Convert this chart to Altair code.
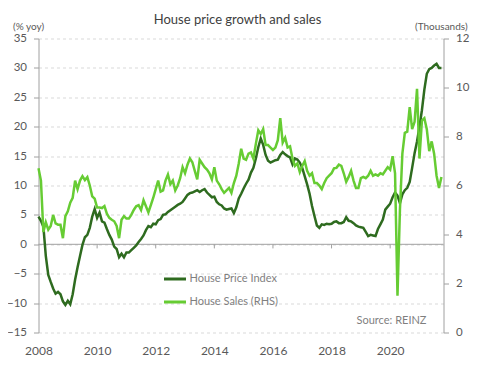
import altair as alt
import pandas as pd

# Monthly data, Jan 2008 .. Oct 2021
hpi = [
    4.7, 4.0, 3.0, -2.0, -5.2, -6.4, -7.5, -8.4, -8.1, -8.5, -9.7, -10.3,
    -9.6, -10.2, -8.5, -6.0, -3.9, -2.0, -0.1, 1.2, 1.6, 2.8, 4.7, 6.0,
    4.5, 5.4, 3.9, 3.7, 2.6, 1.6, 0.8, -0.4, -0.8, -2.2, -1.6, -2.2,
    -1.4, -1.4, -1.0, -0.6, -0.2, 0.4, 0.9, 1.5, 2.4, 3.1, 2.9, 3.5,
    3.4, 4.1, 4.3, 5.0, 5.1, 5.5, 5.8, 6.1, 6.4, 6.7, 6.9, 7.2,
    7.8, 8.4, 8.7, 8.8, 9.0, 9.2, 8.9, 9.2, 9.4, 8.8, 8.4, 8.0,
    8.1, 7.2, 6.8, 6.6, 6.1, 5.9, 6.0, 6.1, 5.3, 6.3, 7.8, 8.6,
    9.5, 10.3, 11.0, 12.2, 13.0, 14.6, 16.5, 18.0, 16.9, 15.2, 14.2, 13.9,
    14.1, 14.3, 14.4, 15.2, 15.7, 15.3, 15.0, 14.8, 13.6, 14.6, 14.4, 13.9,
    13.0, 11.6, 10.2, 8.6, 6.5, 4.8, 3.2, 2.8, 3.4, 3.3, 3.5, 3.4,
    3.5, 3.8, 3.9, 3.6, 3.6, 3.8, 4.6, 4.0, 3.9, 3.6, 3.2, 3.0,
    2.9, 2.8, 2.1, 1.4, 1.6, 1.5, 1.4, 2.6, 3.4, 4.2, 5.9, 6.4,
    6.9, 8.0, 8.8, 8.3, 7.0, 8.5, 9.2, 9.6, 10.6, 13.0, 15.5, 17.5,
    20.0, 22.8, 26.3, 29.0, 29.8, 30.0, 30.4, 30.7, 30.0, 30.0,
]
sales = [
    6.7, 6.2, 4.1, 4.5, 4.2, 4.35, 4.8, 4.45, 4.4, 4.4, 3.85, 4.75,
    4.95, 5.3, 5.5, 6.2, 5.85, 6.2, 6.38, 6.22, 6.34, 6.0, 5.56, 5.46,
    5.1, 5.1, 5.08, 5.16, 4.85, 4.68, 4.6, 4.54, 4.35, 3.85, 4.6, 4.75,
    4.65, 4.65, 4.8, 5.0, 5.15, 5.2, 5.0, 5.4, 5.15, 4.9, 5.2, 5.5,
    5.85, 6.2, 5.75, 5.8, 6.2, 6.45, 6.05, 6.2, 5.8, 6.0, 6.3, 6.75,
    6.5, 6.85, 7.1, 6.95, 6.6, 6.25, 7.05, 6.9, 6.75, 6.65, 6.5, 6.25,
    6.75, 6.2, 6.05, 5.85, 5.7, 5.8, 5.9, 5.7, 6.1, 6.4, 6.9, 7.5,
    7.1, 7.05, 7.3, 7.35, 7.1, 7.7, 8.25, 8.1, 8.3, 7.65, 7.65, 7.55,
    7.45, 7.55, 7.85, 8.75, 7.75, 7.95, 7.55, 7.6, 7.1, 6.8, 6.9, 6.55,
    6.8, 7.0, 6.6, 6.4, 6.5, 6.1, 6.1, 6.0, 5.85, 6.1, 6.3, 6.4,
    6.5, 6.7, 6.72, 6.85, 6.8, 6.5, 6.15, 6.35, 6.6, 6.2, 5.9, 5.9,
    6.3, 6.35, 6.3, 6.4, 6.6, 6.4, 6.45, 6.4, 6.5, 6.45, 6.6, 6.75,
    6.65, 7.2, 6.5, 1.5, 5.0, 7.3, 8.15, 8.2, 9.2, 8.3, 8.6, 9.95,
    7.1, 8.65, 8.75, 8.3, 7.4, 7.8, 7.3, 6.4, 5.9, 6.35,
]
series_names = ["House Price Index", "House Sales (RHS)"]
series_colors = ["#2e6b1f", "#66cc33"]
year_ticks = [2008, 2010, 2012, 2014, 2016, 2018, 2020]
minor_ticks = [2010, 2012, 2014, 2016, 2018, 2020]
left_ticks = [-15, -10, -5, 0, 5, 10, 15, 20, 25, 30, 35]
right_ticks = [0, 2, 4, 6, 8, 10, 12]
x_end = 2021.82
title_text = "House price growth and sales"
source_text = "Source: REINZ"
left_unit = "(% yoy)"
right_unit = "(Thousands)"

FONT = "Lato"
t = [2008 + m / 12 for m in range(len(hpi))]
rows = []
for ti, h, s in zip(t, hpi, sales):
    rows.append({"t": ti, "series": series_names[0], "value": h})
    rows.append({"t": ti, "series": series_names[1], "value": s})
df = pd.DataFrame(rows)
ticks_df = pd.DataFrame({"yr": minor_ticks})
src_df = pd.DataFrame({"s": [source_text]})
title_df = pd.DataFrame({"s": [title_text]})
lu_df = pd.DataFrame({"s": [left_unit]})
ru_df = pd.DataFrame({"s": [right_unit]})

xscale = alt.Scale(domain=[2008, x_end], nice=False, zero=False)
xaxis = alt.Axis(values=year_ticks, format="d", domain=False, ticks=False, grid=False,
                 labelPadding=13, labelFontSize=12, labelColor="#595959", labelFont=FONT,
                 labelFlush=False, labelOverlap=False, title=None)

color = alt.Color("series:N", scale=alt.Scale(domain=series_names, range=series_colors),
                  legend=alt.Legend(orient="none", legendX=124, legendY=228, title=None,
                                    symbolType="stroke", symbolSize=484, symbolStrokeWidth=3,
                                    labelFontSize=11, labelColor="#7f7f7f", labelFont=FONT,
                                    rowPadding=4, labelOffset=2, padding=0))

lscale = alt.Scale(domain=[-15, 35], nice=False, zero=False)
laxis = alt.Axis(values=left_ticks, grid=True, gridDash=[3, 3], gridColor="#d9d9d9",
                 domainColor="#a0a0a0", tickColor="#a0a0a0", tickSize=5,
                 labelPadding=7, labelFontSize=11.5, labelColor="#595959", labelFont=FONT,
                 labelOverlap=False, labelBound=False, title=None)
left_y = alt.Y("value:Q", scale=lscale, axis=laxis)
right_y = alt.Y("value:Q", scale=alt.Scale(domain=[0, 12], nice=False, zero=False),
                axis=alt.Axis(orient="right", values=right_ticks, grid=False,
                              domainColor="#a0a0a0", tickColor="#a0a0a0", tickSize=5,
                              labelPadding=7, labelFontSize=11.5, labelColor="#595959", labelFont=FONT,
                              labelOverlap=False, title=None))

hpi_line = alt.Chart(df).transform_filter(alt.datum.series == series_names[0]).mark_line(
    strokeWidth=2.5).encode(x=alt.X("t:Q", scale=xscale, axis=xaxis), y=left_y, color=color)
zero_line = alt.Chart(src_df).mark_rule(color="#a0a0a0", strokeWidth=1).encode(
    y=alt.YDatum(0, scale=lscale, axis=laxis))
xt = alt.Chart(ticks_df).mark_rule(color="#a0a0a0", strokeWidth=1).encode(
    x=alt.X("yr:Q", scale=xscale, axis=xaxis),
    y=alt.YDatum(0, scale=lscale, axis=laxis), y2=alt.datum(-0.7))
source = alt.Chart(src_df).mark_text(align="right", baseline="middle", fontSize=11,
                                     color="#7f7f7f", font=FONT).encode(
    x=alt.value(388), y=alt.value(282), text="s:N")
title = alt.Chart(title_df).mark_text(align="center", baseline="middle", fontSize=13,
                                      color="#404040", font=FONT).encode(
    x=alt.value(199), y=alt.value(-18.5), text="s:N")
lunit = alt.Chart(lu_df).mark_text(align="left", baseline="middle", fontSize=10,
                                   color="#595959", font=FONT).encode(
    x=alt.value(-25.5), y=alt.value(-11.5), text="s:N")
runit = alt.Chart(ru_df).mark_text(align="left", baseline="middle", fontSize=10,
                                   color="#595959", font=FONT).encode(
    x=alt.value(376.5), y=alt.value(-11.5), text="s:N")

left = alt.layer(zero_line, xt, hpi_line, source, title, lunit, runit)
sales_line = alt.Chart(df).transform_filter(alt.datum.series == series_names[1]).mark_line(
    strokeWidth=2.5).encode(x=alt.X("t:Q", scale=xscale, axis=xaxis), y=right_y, color=color)

chart = alt.layer(left, sales_line).resolve_scale(y="independent").properties(
    width=405, height=294,
    autosize=alt.AutoSizeParams(type="none"),
    padding={"left": 30.5, "top": 30.5, "right": 31, "bottom": 26},
).configure_view(stroke=None).configure_axis(labelOverlap=False)

chart.save("out.html", embed_options={"renderer": "svg", "actions": False})
